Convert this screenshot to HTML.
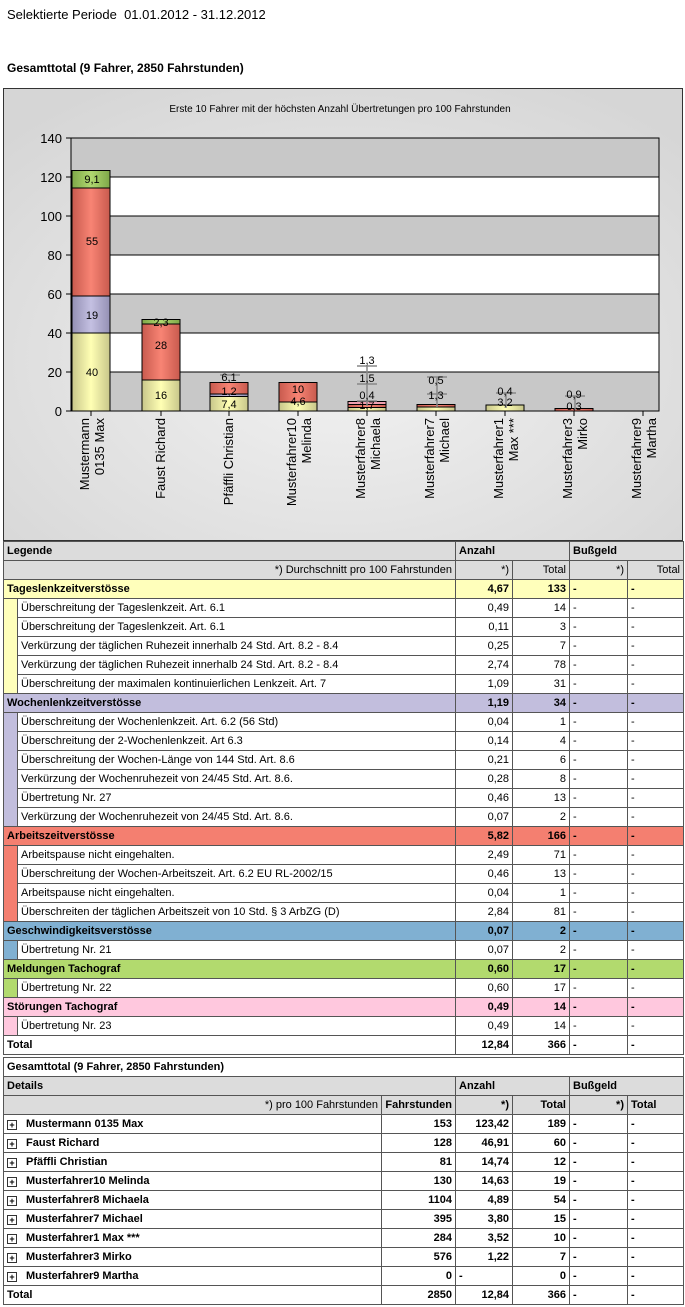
<!DOCTYPE html>
<html><head><meta charset="utf-8"><style>
body{margin:0;width:685px;height:1307px;background:#fff;font-family:"Liberation Sans",Arial,sans-serif;position:relative;overflow:hidden}
.t{position:absolute;left:3px;border-collapse:collapse;table-layout:fixed;font-size:11px;color:#000}
.t td{border:1px solid #555;height:18px;padding:0 3px;white-space:nowrap;overflow:hidden;line-height:18px}
.r{text-align:right}.b{font-weight:bold}
.h td{background:#dcdcdc}
.y{background:#ffffbb}.p{background:#c2bedd}.rd{background:#f47f70}.bl{background:#80b0d2}.g{background:#b2da6e}.pk{background:#ffc8de}
.s{border-top:0!important;border-bottom:0!important}
.pl{display:inline-block;width:8px;height:8px;border:1px solid #333;font-size:9px;line-height:8px;text-align:center;margin-right:9px;vertical-align:-1px}
</style></head><body>
<div style="position:absolute;left:7px;top:7px;font-size:13px">Selektierte Periode&nbsp;&nbsp;01.01.2012 - 31.12.2012</div>
<div style="position:absolute;left:7px;top:61px;font-size:12px;font-weight:bold">Gesamttotal (9 Fahrer, 2850 Fahrstunden)</div>
<svg style="position:absolute;left:0;top:0" width="685" height="541" font-family="Liberation Sans,Arial,sans-serif">
<defs>
<radialGradient id="bg" cx="50%" cy="60%" r="70%"><stop offset="0" stop-color="#f2f2f2"/><stop offset="1" stop-color="#d6d6d6"/></radialGradient>
<linearGradient id="gy"><stop offset="0" stop-color="#c8c68a"/><stop offset=".5" stop-color="#ffffb4"/><stop offset="1" stop-color="#c8c68a"/></linearGradient>
<linearGradient id="gp"><stop offset="0" stop-color="#9490b4"/><stop offset=".5" stop-color="#c4c0e2"/><stop offset="1" stop-color="#9490b4"/></linearGradient>
<linearGradient id="gr"><stop offset="0" stop-color="#c85a4e"/><stop offset=".5" stop-color="#f88474"/><stop offset="1" stop-color="#c85a4e"/></linearGradient>
<linearGradient id="gg"><stop offset="0" stop-color="#7ea848"/><stop offset=".5" stop-color="#b0d870"/><stop offset="1" stop-color="#7ea848"/></linearGradient>
</defs>
<rect x="3.5" y="88.5" width="679" height="452" fill="url(#bg)" stroke="#333"/>
<text x="340" y="112" font-size="10" text-anchor="middle">Erste 10 Fahrer mit der höchsten Anzahl Übertretungen pro 100 Fahrstunden</text>
<g stroke="#000" stroke-width="1">
<rect x="71" y="138" width="588" height="39" fill="#c8c8c8"/>
<rect x="71" y="177" width="588" height="39" fill="#fff"/>
<rect x="71" y="216" width="588" height="39" fill="#c8c8c8"/>
<rect x="71" y="255" width="588" height="39" fill="#fff"/>
<rect x="71" y="294" width="588" height="39" fill="#c8c8c8"/>
<rect x="71" y="333" width="588" height="39" fill="#fff"/>
<rect x="71" y="372" width="588" height="39" fill="#c8c8c8"/>
<path d="M66 138H71M66 177H71M66 216H71M66 255H71M66 294H71M66 333H71M66 372H71M66 411H71"/>
<path d="M91 411v5M161 411v5M229 411v5M298 411v5M367 411v5M436 411v5M505 411v5M574 411v5M643 411v5"/>
<rect x="72" y="333" width="38" height="78" fill="url(#gy)"/>
<rect x="72" y="296" width="38" height="37" fill="url(#gp)"/>
<rect x="72" y="188" width="38" height="108" fill="url(#gr)"/>
<rect x="72" y="170.5" width="38" height="17.5" fill="url(#gg)"/>
<rect x="142" y="380" width="38" height="31" fill="url(#gy)"/>
<rect x="142" y="324" width="38" height="56" fill="url(#gr)"/>
<rect x="142" y="319.5" width="38" height="4.5" fill="url(#gg)"/>
<rect x="210" y="396.5" width="38" height="14.5" fill="url(#gy)"/>
<rect x="210" y="394" width="38" height="2.5" fill="url(#gp)"/>
<rect x="210" y="382.5" width="38" height="11.5" fill="url(#gr)"/>
<rect x="279" y="402" width="38" height="9" fill="url(#gy)"/>
<rect x="279" y="382.5" width="38" height="19.5" fill="url(#gr)"/>
<rect x="348" y="407.5" width="38" height="3.5" fill="url(#gy)"/>
<rect x="348" y="404.5" width="38" height="3" fill="url(#gr)"/>
<rect x="348" y="401.5" width="38" height="3" fill="#f0a0b0"/>
<rect x="417" y="407" width="38" height="4" fill="url(#gy)"/>
<rect x="417" y="404.5" width="38" height="2.5" fill="url(#gr)"/>
<rect x="486" y="405" width="38" height="6" fill="url(#gy)"/>
<rect x="555" y="408.5" width="38" height="2.5" fill="url(#gr)"/>
<path d="M71 138V411H659" fill="none"/>
</g>
<g stroke="#888" stroke-width="1.5">
<path d="M357 366h20M357 384h20M357 401h20M367 366v40M427 377h20M427 394h20M437 377v30M496 393h20M506 393v15M565 396h20M575 396v14M220 375h20"/>
</g>
<g font-size="13" text-anchor="end">
<text x="62" y="143">140</text><text x="62" y="182">120</text><text x="62" y="221">100</text><text x="62" y="260">80</text><text x="62" y="299">60</text><text x="62" y="338">40</text><text x="62" y="377">20</text><text x="62" y="416">0</text>
</g>
<g font-size="11" text-anchor="middle">
<text x="92" y="183">9,1</text><text x="92" y="245">55</text><text x="92" y="319">19</text><text x="92" y="376">40</text>
<text x="161" y="326">2,3</text><text x="161" y="349">28</text><text x="161" y="399">16</text>
<text x="229" y="381">6,1</text><text x="229" y="395">1,2</text><text x="229" y="408">7,4</text>
<text x="298" y="393">10</text><text x="298" y="405">4,6</text>
<text x="367" y="364">1,3</text><text x="367" y="382">1,5</text><text x="367" y="399">0,4</text><text x="367" y="409">1,7</text>
<text x="436" y="384">0,5</text><text x="436" y="399">1,3</text>
<text x="505" y="395">0,4</text><text x="505" y="406">3,2</text>
<text x="574" y="398">0,9</text><text x="574" y="410">0,3</text>
</g>
<g font-size="13" text-anchor="end">
<text transform="translate(89,418) rotate(-90)">Mustermann</text><text transform="translate(104,418) rotate(-90)">0135 Max</text>
<text transform="translate(165,418) rotate(-90)">Faust Richard</text>
<text transform="translate(233,418) rotate(-90)">Pfäffli Christian</text>
<text transform="translate(296,418) rotate(-90)">Musterfahrer10</text><text transform="translate(311,418) rotate(-90)">Melinda</text>
<text transform="translate(365,418) rotate(-90)">Musterfahrer8</text><text transform="translate(380,418) rotate(-90)">Michaela</text>
<text transform="translate(434,418) rotate(-90)">Musterfahrer7</text><text transform="translate(449,418) rotate(-90)">Michael</text>
<text transform="translate(503,418) rotate(-90)">Musterfahrer1</text><text transform="translate(518,418) rotate(-90)">Max ***</text>
<text transform="translate(572,418) rotate(-90)">Musterfahrer3</text><text transform="translate(587,418) rotate(-90)">Mirko</text>
<text transform="translate(641,418) rotate(-90)">Musterfahrer9</text><text transform="translate(656,418) rotate(-90)">Martha</text>
</g>
</svg>

<table class="t" style="top:541px;width:680px">
<colgroup><col style="width:14px"><col style="width:438px"><col style="width:57px"><col style="width:57px"><col style="width:58px"><col style="width:56px"></colgroup>
<tr class="h b"><td colspan="2">Legende</td><td colspan="2">Anzahl</td><td colspan="2">Bußgeld</td></tr>
<tr class="h"><td colspan="2" class="r">*) Durchschnitt pro 100 Fahrstunden</td><td class="r">*)</td><td class="r">Total</td><td class="r">*)</td><td class="r">Total</td></tr>
<tr class="y b"><td colspan="2">Tageslenkzeitverstösse</td><td class="r">4,67</td><td class="r">133</td><td>-</td><td>-</td></tr>
<tr><td class="y s"></td><td>Überschreitung der Tageslenkzeit. Art. 6.1</td><td class="r">0,49</td><td class="r">14</td><td>-</td><td>-</td></tr>
<tr><td class="y s"></td><td>Überschreitung der Tageslenkzeit. Art. 6.1</td><td class="r">0,11</td><td class="r">3</td><td>-</td><td>-</td></tr>
<tr><td class="y s"></td><td>Verkürzung der täglichen Ruhezeit innerhalb 24 Std. Art. 8.2 - 8.4</td><td class="r">0,25</td><td class="r">7</td><td>-</td><td>-</td></tr>
<tr><td class="y s"></td><td>Verkürzung der täglichen Ruhezeit innerhalb 24 Std. Art. 8.2 - 8.4</td><td class="r">2,74</td><td class="r">78</td><td>-</td><td>-</td></tr>
<tr><td class="y s"></td><td>Überschreitung der maximalen kontinuierlichen Lenkzeit. Art. 7</td><td class="r">1,09</td><td class="r">31</td><td>-</td><td>-</td></tr>
<tr class="p b"><td colspan="2">Wochenlenkzeitverstösse</td><td class="r">1,19</td><td class="r">34</td><td>-</td><td>-</td></tr>
<tr><td class="p s"></td><td>Überschreitung der Wochenlenkzeit. Art. 6.2 (56 Std)</td><td class="r">0,04</td><td class="r">1</td><td>-</td><td>-</td></tr>
<tr><td class="p s"></td><td>Überschreitung der 2-Wochenlenkzeit. Art 6.3</td><td class="r">0,14</td><td class="r">4</td><td>-</td><td>-</td></tr>
<tr><td class="p s"></td><td>Überschreitung der Wochen-Länge von 144 Std. Art. 8.6</td><td class="r">0,21</td><td class="r">6</td><td>-</td><td>-</td></tr>
<tr><td class="p s"></td><td>Verkürzung der Wochenruhezeit von 24/45 Std. Art. 8.6.</td><td class="r">0,28</td><td class="r">8</td><td>-</td><td>-</td></tr>
<tr><td class="p s"></td><td>Übertretung Nr. 27</td><td class="r">0,46</td><td class="r">13</td><td>-</td><td>-</td></tr>
<tr><td class="p s"></td><td>Verkürzung der Wochenruhezeit von 24/45 Std. Art. 8.6.</td><td class="r">0,07</td><td class="r">2</td><td>-</td><td>-</td></tr>
<tr class="rd b"><td colspan="2">Arbeitszeitverstösse</td><td class="r">5,82</td><td class="r">166</td><td>-</td><td>-</td></tr>
<tr><td class="rd s"></td><td>Arbeitspause nicht eingehalten.</td><td class="r">2,49</td><td class="r">71</td><td>-</td><td>-</td></tr>
<tr><td class="rd s"></td><td>Überschreitung der Wochen-Arbeitszeit. Art. 6.2 EU RL-2002/15</td><td class="r">0,46</td><td class="r">13</td><td>-</td><td>-</td></tr>
<tr><td class="rd s"></td><td>Arbeitspause nicht eingehalten.</td><td class="r">0,04</td><td class="r">1</td><td>-</td><td>-</td></tr>
<tr><td class="rd s"></td><td>Überschreiten der täglichen Arbeitszeit von 10 Std. § 3 ArbZG (D)</td><td class="r">2,84</td><td class="r">81</td><td>-</td><td>-</td></tr>
<tr class="bl b"><td colspan="2">Geschwindigkeitsverstösse</td><td class="r">0,07</td><td class="r">2</td><td>-</td><td>-</td></tr>
<tr><td class="bl s"></td><td>Übertretung Nr. 21</td><td class="r">0,07</td><td class="r">2</td><td>-</td><td>-</td></tr>
<tr class="g b"><td colspan="2">Meldungen Tachograf</td><td class="r">0,60</td><td class="r">17</td><td>-</td><td>-</td></tr>
<tr><td class="g s"></td><td>Übertretung Nr. 22</td><td class="r">0,60</td><td class="r">17</td><td>-</td><td>-</td></tr>
<tr class="pk b"><td colspan="2">Störungen Tachograf</td><td class="r">0,49</td><td class="r">14</td><td>-</td><td>-</td></tr>
<tr><td class="pk s"></td><td>Übertretung Nr. 23</td><td class="r">0,49</td><td class="r">14</td><td>-</td><td>-</td></tr>
<tr class="b"><td colspan="2">Total</td><td class="r">12,84</td><td class="r">366</td><td>-</td><td>-</td></tr>
</table>

<table class="t" style="top:1057px;width:680px">
<colgroup><col style="width:378px"><col style="width:74px"><col style="width:57px"><col style="width:57px"><col style="width:58px"><col style="width:56px"></colgroup>
<tr class="b"><td colspan="6">Gesamttotal (9 Fahrer, 2850 Fahrstunden)</td></tr>
<tr class="h b"><td colspan="2">Details</td><td colspan="2">Anzahl</td><td colspan="2">Bußgeld</td></tr>
<tr class="h"><td class="r">*) pro 100 Fahrstunden</td><td class="r b">Fahrstunden</td><td class="r b">*)</td><td class="r b">Total</td><td class="r b">*)</td><td class="b">Total</td></tr>
<tr class="b"><td><span class="pl">+</span>Mustermann 0135 Max</td><td class="r">153</td><td class="r">123,42</td><td class="r">189</td><td>-</td><td>-</td></tr>
<tr class="b"><td><span class="pl">+</span>Faust Richard</td><td class="r">128</td><td class="r">46,91</td><td class="r">60</td><td>-</td><td>-</td></tr>
<tr class="b"><td><span class="pl">+</span>Pfäffli Christian</td><td class="r">81</td><td class="r">14,74</td><td class="r">12</td><td>-</td><td>-</td></tr>
<tr class="b"><td><span class="pl">+</span>Musterfahrer10 Melinda</td><td class="r">130</td><td class="r">14,63</td><td class="r">19</td><td>-</td><td>-</td></tr>
<tr class="b"><td><span class="pl">+</span>Musterfahrer8 Michaela</td><td class="r">1104</td><td class="r">4,89</td><td class="r">54</td><td>-</td><td>-</td></tr>
<tr class="b"><td><span class="pl">+</span>Musterfahrer7 Michael</td><td class="r">395</td><td class="r">3,80</td><td class="r">15</td><td>-</td><td>-</td></tr>
<tr class="b"><td><span class="pl">+</span>Musterfahrer1 Max ***</td><td class="r">284</td><td class="r">3,52</td><td class="r">10</td><td>-</td><td>-</td></tr>
<tr class="b"><td><span class="pl">+</span>Musterfahrer3 Mirko</td><td class="r">576</td><td class="r">1,22</td><td class="r">7</td><td>-</td><td>-</td></tr>
<tr class="b"><td><span class="pl">+</span>Musterfahrer9 Martha</td><td class="r">0</td><td>-</td><td class="r">0</td><td>-</td><td>-</td></tr>
<tr class="b"><td>Total</td><td class="r">2850</td><td class="r">12,84</td><td class="r">366</td><td>-</td><td>-</td></tr>
</table>
</body></html>
